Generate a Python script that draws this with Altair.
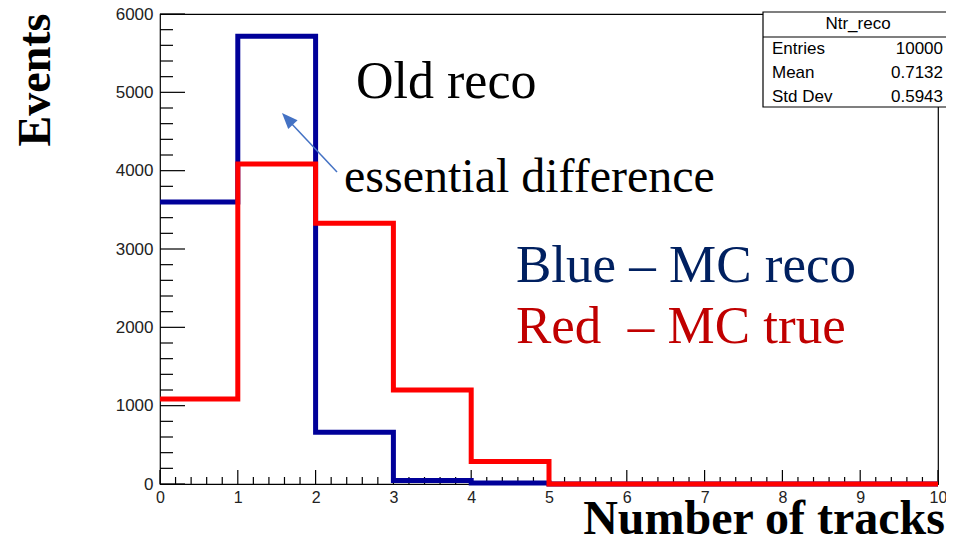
import altair as alt
import pandas as pd

# ---- data ----
bin_edges = [0, 1, 2, 3, 4, 5, 6, 7, 8, 9, 10]
mc_reco = [3600, 5715, 660, 45, 12, 0, 0, 0, 0, 0]      # blue
mc_true = [1085, 4085, 3330, 1200, 287, 0, 0, 0, 0, 0]  # red

y_ticks = [0, 1000, 2000, 3000, 4000, 5000, 6000]
x_ticks = [0, 1, 2, 3, 4, 5, 6, 7, 8, 9, 10]

stat_title = "Ntr_reco"
stat_names = ["Entries", "Mean", "Std Dev"]
stat_values = ["10000", "0.7132", "0.5943"]

W, H = 778, 470

def step_df(counts):
    return pd.DataFrame({"x": bin_edges, "count": counts + [counts[-1]]})

xscale = alt.Scale(domain=[0, 10], nice=False, zero=False)
yscale = alt.Scale(domain=[0, 6000], nice=False)

xaxis = alt.Axis(values=x_ticks, tickSize=0, domain=False, grid=False, title=None,
                 labelFont="Liberation Sans", labelFontSize=16, labelColor="#222",
                 labelPadding=5, labelFlush=False, format="d")
yaxis = alt.Axis(values=y_ticks, tickSize=0, domain=False, grid=False, title=None,
                 labelFont="Liberation Sans", labelFontSize=17, labelColor="#222",
                 labelPadding=7, format="d")

one = alt.Data(values=[{"a": 1}])

# ---- inward ticks (ROOT style) ----
ytick_src = alt.Chart(alt.sequence(0, 31, 1, as_="i")).transform_calculate(v="datum.i*200")
ymajor = ytick_src.transform_filter("datum.i % 5 == 0").mark_rule(color="black", strokeWidth=1.2).encode(
    y=alt.Y("v:Q", scale=yscale, axis=yaxis), x=alt.value(0), x2=alt.value(25))
yminor = ytick_src.transform_filter("datum.i % 5 != 0").mark_rule(color="black", strokeWidth=1.2).encode(
    y=alt.Y("v:Q", scale=yscale, axis=yaxis), x=alt.value(0), x2=alt.value(13))

xtick_src = alt.Chart(alt.sequence(0, 51, 1, as_="i")).transform_calculate(v="datum.i/5")
xmajor = xtick_src.transform_filter("datum.i % 5 == 0").mark_rule(color="black", strokeWidth=1.2).encode(
    x=alt.X("v:Q", scale=xscale, axis=xaxis), y=alt.value(H), y2=alt.value(H - 14))
xminor = xtick_src.transform_filter("datum.i % 5 != 0").mark_rule(color="black", strokeWidth=1.2).encode(
    x=alt.X("v:Q", scale=xscale, axis=xaxis), y=alt.value(H), y2=alt.value(H - 7))

# ---- histograms ----
def hist(counts, color):
    return alt.Chart(step_df(counts)).mark_line(
        interpolate="step-after", color=color, strokeWidth=5, strokeJoin="miter"
    ).encode(
        x=alt.X("x:Q", scale=xscale, axis=xaxis),
        y=alt.Y("count:Q", scale=yscale, axis=yaxis),
    )

blue = hist(mc_reco, "#000099")
red = hist(mc_true, "#ff0000")

# ---- annotations ----
def label(txt, x, y, size, color="black", font="Liberation Serif", weight="normal",
          align="left", angle=0, baseline="alphabetic"):
    return alt.Chart(one).mark_text(
        text=txt, fontSize=size, font=font, fontWeight=weight, color=color,
        align=align, angle=angle, baseline=baseline
    ).encode(x=alt.value(x), y=alt.value(y))

old_reco = label("Old reco", 196, 84, 52)
ess = label("essential difference", 184, 178, 48)
blue_lbl = label("Blue \u2013 MC reco", 356, 268, 53, color="#002060")
red_lbl = label("Red \u00a0\u2013 MC true", 356, 329, 53, color="#c00000")

arrow_line = alt.Chart(one).mark_rule(color="#4472c4", strokeWidth=1.5).encode(
    x=alt.value(177), y=alt.value(158), x2=alt.value(130), y2=alt.value(108))
arrow_head = alt.Chart(one).mark_point(
    shape="M0,0L-0.4,1L0.4,1Z", filled=True, color="#4472c4", opacity=1,
    size=1024, angle=317, strokeWidth=0
).encode(x=alt.value(122), y=alt.value(99))

# axis titles
ytitle = label("Events", -110, 66, 46, weight="bold", align="center", angle=270)
xtitle = label("Number of tracks", 604, 520, 48, weight="bold", align="center")

# ---- stats box ----
box = alt.Chart(one).mark_rect(fill="white", stroke="black", strokeWidth=1.2).encode(
    x=alt.value(603), x2=alt.value(830), y=alt.value(-2), y2=alt.value(93))
box_div = alt.Chart(one).mark_rule(color="black", strokeWidth=1.2).encode(
    x=alt.value(603), x2=alt.value(830), y=alt.value(23))
box_title = label(stat_title, 698, 10, 17, font="Liberation Sans", align="center", baseline="middle")
rows = []
for k, (n, v) in enumerate(zip(stat_names, stat_values)):
    rows.append(label(n, 612, 35 + 24 * k, 17, font="Liberation Sans", baseline="middle"))
    rows.append(label(v, 783, 35 + 24 * k, 17, font="Liberation Sans", align="right", baseline="middle"))

chart = alt.layer(
    yminor, ymajor, xminor, xmajor, blue, red,
    arrow_line, arrow_head, old_reco, ess, blue_lbl, red_lbl,
    box, box_div, box_title, *rows,
    ytitle, xtitle,
).properties(
    width=W, height=H,
    autosize=alt.AutoSizeParams(type="none"),
    padding={"left": 152, "top": 6, "right": 8, "bottom": 50},
    background="white",
).configure_view(stroke="black", strokeWidth=1.2)

chart.save("out.html", embed_options={"renderer": "svg", "actions": False})
